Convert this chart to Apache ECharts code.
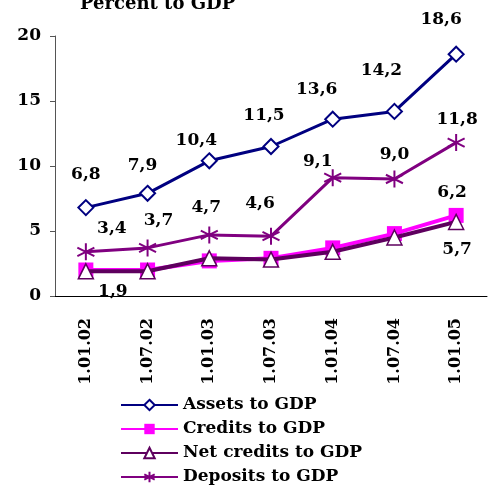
<!DOCTYPE html>
<html>
<head>
<meta charset="utf-8">
<script src="https://cdn.jsdelivr.net/npm/echarts@6/dist/echarts.min.js"></script>
<style>html,body{margin:0;padding:0;background:#fff}#main{width:491px;height:490px}</style>
</head>
<body>
<div id="main"></div>
<script>
var dates = ['1.01.02', '1.07.02', '1.01.03', '1.07.03', '1.01.04', '1.07.04', '1.01.05'];
var assets = [6.8, 7.9, 10.4, 11.5, 13.6, 14.2, 18.6];
var credits = [2.0, 2.0, 2.7, 2.9, 3.7, 4.8, 6.2];
var netCredits = [1.9, 1.9, 2.9, 2.8, 3.4, 4.5, 5.7];
var deposits = [3.4, 3.7, 4.7, 4.6, 9.1, 9.0, 11.8];

var FONT = '"DejaVu Serif", serif';
var fmt = function (v) { return v.toFixed(1).replace('.', ','); };

var myChart = echarts.init(document.getElementById('main'), null, { renderer: 'canvas' });

// label nudges relative to the point (label centred on the point)
function nudge(dxs, dys) {
    return function (p) { return { dx: dxs[p.dataIndex] || 0, dy: dys[p.dataIndex] || 0 }; };
}
function lbl(formatter) {
    return {
        show: true, position: 'inside', formatter: formatter,
        fontFamily: FONT, fontWeight: 'bold', fontSize: 17, color: '#000'
    };
}

var option = {
    animation: false,
    title: {
        text: 'Percent to GDP',
        left: 75,
        top: -10,
        textStyle: { fontFamily: FONT, fontWeight: 'bold', fontSize: 18, color: '#000' }
    },
    legend: {
        orient: 'vertical',
        left: 120,
        top: 395,
        padding: 0,
        itemWidth: 57,
        itemHeight: 13,
        itemGap: 4,
        textStyle: { fontFamily: FONT, fontWeight: 'bold', fontSize: 17, lineHeight: 20, color: '#000' }
    },
    grid: { left: 55, right: 4, top: 36, bottom: 194 },
    xAxis: {
        type: 'category',
        data: dates,
        boundaryGap: true,
        axisLine: { lineStyle: { color: '#000', width: 1 } },
        axisTick: { length: 6, lineStyle: { color: '#000' } },
        axisLabel: { rotate: 90, margin: 22, fontFamily: FONT, fontWeight: 'bold', fontSize: 16, color: '#000' }
    },
    yAxis: {
        type: 'value',
        min: 0,
        max: 20,
        interval: 5,
        splitLine: { show: false },
        axisLine: { show: true, lineStyle: { color: '#555', width: 1 } },
        axisTick: { show: true, length: 5, lineStyle: { color: '#555' } },
        axisLabel: { margin: 14, fontFamily: FONT, fontWeight: 'bold', fontSize: 17, color: '#000' }
    },
    series: [
        {
            name: 'Assets to GDP',
            type: 'line',
            data: assets,
            z: 5,
            symbol: 'diamond',
            symbolSize: 15,
            lineStyle: { color: '#000080', width: 3 },
            itemStyle: { color: '#fff', borderColor: '#000080', borderWidth: 2 },
            label: lbl(function (p) { return fmt(p.value); }),
            labelLayout: nudge([0, -5, -13, -7, -16, -13, -15], [-33, -28, -20, -31, -30, -41, -35])
        },
        {
            name: 'Credits to GDP',
            type: 'line',
            data: credits,
            z: 3,
            symbol: 'rect',
            symbolSize: 15,
            lineStyle: { color: '#FF00FF', width: 4 },
            itemStyle: { color: '#FF00FF', borderColor: '#FF00FF', borderWidth: 0 },
            label: lbl(function (p) { return p.dataIndex === credits.length - 1 ? fmt(p.value) : ''; }),
            labelLayout: nudge([0, 0, 0, 0, 0, 0, -4], [0, 0, 0, 0, 0, 0, -23])
        },
        {
            name: 'Net credits to GDP',
            type: 'line',
            data: netCredits,
            z: 4,
            symbol: 'triangle',
            symbolSize: 15,
            lineStyle: { color: '#5E005E', width: 4 },
            itemStyle: { color: '#fff', borderColor: '#5E005E', borderWidth: 1.5 },
            label: lbl(function (p) {
                return (p.dataIndex === 0 || p.dataIndex === netCredits.length - 1) ? fmt(p.value) : '';
            }),
            labelLayout: nudge([27, 0, 0, 0, 0, 0, 1], [20, 0, 0, 0, 0, 0, 28])
        },
        {
            name: 'Deposits to GDP',
            type: 'line',
            data: deposits,
            z: 4,
            symbol: 'path://M0,-10L0,10M-9,-5L9,5M-9,5L9,-5',
            symbolSize: 17,
            lineStyle: { color: '#800080', width: 3 },
            itemStyle: { color: 'none', borderColor: '#800080', borderWidth: 2 },
            label: lbl(function (p) { return fmt(p.value); }),
            labelLayout: nudge([26, 11, -3, -11, -15, 0, 1], [-23, -27, -27, -33, -16, -24, -23])
        }
    ]
};

myChart.setOption(option);
window.addEventListener('resize', myChart.resize);
</script>
</body>
</html>
